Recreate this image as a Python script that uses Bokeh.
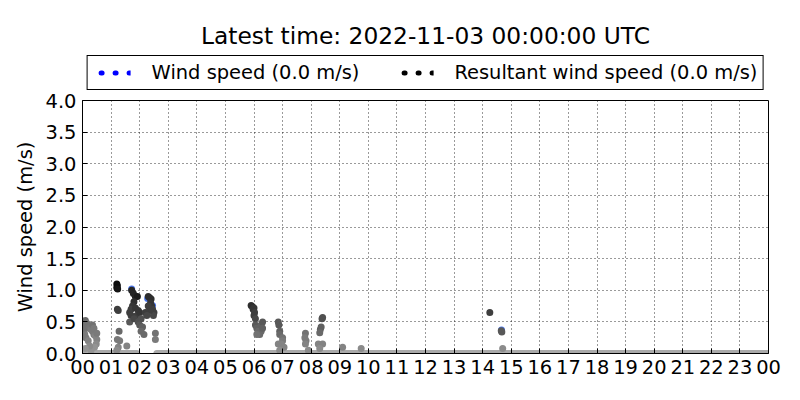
import numpy as np
from bokeh.plotting import figure
from bokeh.layouts import column
from bokeh.models import (ColumnDataSource, Range1d, FixedTicker, Legend, LegendItem,
                          LinearColorMapper, Label)
from bokeh.embed import file_html
from bokeh.resources import INLINE

# ---------------- data (hours of day, m/s) ----------------
res_hour = [0.02, 0.05, 0.10, 0.15, 0.20, 0.25, 0.30, 0.35, 0.40, 0.45, 0.50, 0.48, 0.42, 0.30,
            0.05, 0.08, 0.12, 0.20, 0.25, 0.10, 0.00, 0.35, 0.40, 0.50,
            1.20, 1.22, 1.20, 1.23, 1.22, 1.25, 1.28, 1.22, 1.30, 1.25, 1.55, 1.20,
            1.72, 1.78, 1.85, 1.92, 1.80, 1.75, 1.70, 1.65, 1.70, 1.65, 1.85, 1.95, 1.90, 1.80,
            2.00, 2.05, 1.95, 2.00, 2.10, 2.05, 2.15,
            2.30, 2.35, 2.40, 2.38, 2.42, 2.45, 2.50, 2.48, 2.30, 2.35, 2.20, 2.25, 2.55, 2.55,
            5.90, 5.95, 6.00, 5.97, 6.02, 6.00, 6.05, 6.05, 6.10, 6.15, 6.20, 6.25, 6.30, 6.25,
            6.10, 6.30,
            6.85, 6.87, 6.90, 6.90, 7.00, 7.00, 6.95, 6.85, 7.05, 6.90,
            7.80, 7.78, 7.82, 7.80, 7.90,
            8.40, 8.38, 8.35, 8.32, 8.30, 8.25, 8.40, 8.30,
            9.10, 9.75, 14.25, 14.65, 14.67, 14.70]
res_speed = [0.45, 0.50, 0.52, 0.48, 0.42, 0.40, 0.38, 0.35, 0.30, 0.28, 0.22, 0.15, 0.10, 0.05,
             0.35, 0.30, 0.25, 0.20, 0.12, 0.08, 0.40, 0.45, 0.40, 0.32,
             1.10, 1.07, 1.04, 1.02, 0.70, 0.68, 0.35, 0.22, 0.20, 0.10, 0.12, 0.05,
             1.00, 0.95, 0.90, 0.90, 0.82, 0.75, 0.70, 0.65, 0.60, 0.50, 0.72, 0.68, 0.60, 0.55,
             0.65, 0.55, 0.50, 0.45, 0.42, 0.35, 0.30,
             0.90, 0.88, 0.86, 0.80, 0.75, 0.70, 0.65, 0.60, 0.75, 0.68, 0.65, 0.60, 0.32, 0.22,
             0.76, 0.74, 0.72, 0.70, 0.65, 0.60, 0.55, 0.45, 0.40, 0.35, 0.30, 0.45, 0.50, 0.35,
             0.30, 0.40,
             0.50, 0.45, 0.35, 0.30, 0.25, 0.20, 0.15, 0.15, 0.10, 0.05,
             0.32, 0.25, 0.20, 0.15, 0.05,
             0.57, 0.55, 0.42, 0.38, 0.33, 0.15, 0.15, 0.08,
             0.10, 0.08, 0.65, 0.36, 0.34, 0.08]
# shading level of each resultant point (0 = light grey, 1 = black)
res_shade = [0.40, 0.40, 0.45, 0.40, 0.40, 0.38, 0.35, 0.35, 0.35, 0.30, 0.30, 0.25, 0.20, 0.20,
             0.40, 0.35, 0.35, 0.30, 0.25, 0.20, 0.40, 0.40, 0.35, 0.35,
             1.00, 1.00, 1.00, 0.95, 0.70, 0.70, 0.45, 0.35, 0.35, 0.30, 0.30, 0.25,
             0.85, 0.85, 0.85, 0.90, 0.80, 0.75, 0.70, 0.70, 0.70, 0.55, 0.75, 0.75, 0.70, 0.65,
             0.75, 0.60, 0.60, 0.55, 0.50, 0.45, 0.45,
             0.80, 0.80, 0.80, 0.75, 0.75, 0.70, 0.70, 0.65, 0.70, 0.70, 0.70, 0.65, 0.40, 0.35,
             0.80, 0.80, 0.75, 0.75, 0.70, 0.70, 0.65, 0.55, 0.50, 0.45, 0.45, 0.50, 0.55, 0.45,
             0.40, 0.50,
             0.55, 0.55, 0.50, 0.45, 0.40, 0.35, 0.30, 0.30, 0.30, 0.25,
             0.40, 0.35, 0.35, 0.30, 0.25,
             0.60, 0.60, 0.50, 0.50, 0.45, 0.30, 0.30, 0.25,
             0.30, 0.25, 0.70, 0.55, 0.55, 0.25]

wind_hour = [1.72, 2.45, 2.28, 14.66]
wind_speed = [1.02, 0.76, 0.87, 0.37]

# periods of calm (0.0 m/s readings)
calm_start = [0.0, 2.6]
calm_end = [1.9, 24.0]

hour_ticks = list(range(0, 25))
hour_labels = ["00", "01", "02", "03", "04", "05", "06", "07", "08", "09", "10", "11",
               "12", "13", "14", "15", "16", "17", "18", "19", "20", "21", "22", "23", "00"]
speed_ticks = [0.0, 0.5, 1.0, 1.5, 2.0, 2.5, 3.0, 3.5, 4.0]

title_text = "Latest time: 2022-11-03 00:00:00 UTC"
wind_label = "Wind speed (0.0 m/s)"
res_label = "Resultant wind speed (0.0 m/s)"

FONT = "DejaVu Sans"
TICK_FS = "19.44px"

# ---------------- header (title + legend) ----------------
TOP_H = 91
head = figure(width=792, height=TOP_H, output_backend="svg", toolbar_location=None,
              x_range=Range1d(0, 736), y_range=Range1d(0, TOP_H), title=None,
              x_axis_type=None, y_axis_type=None,
              min_border_left=56, min_border_right=0, min_border_top=0, min_border_bottom=0)
head.outline_line_color = None
head.background_fill_color = "white"
head.border_fill_color = "white"
head.add_layout(Label(x=368, y=TOP_H - 35, text=title_text, text_align="center",
                      text_baseline="middle", text_font=FONT, text_font_size="23.33px",
                      text_color="black"))

lw = head.line([-20, -10], [-20, -20], line_color="#0000ff", line_width=5,
               line_dash="1 13", line_dash_offset=6, line_cap="round")
lr = head.line([-20, -10], [-20, -20], line_color="black", line_width=5,
               line_dash="1 13", line_dash_offset=6, line_cap="round")
legend = Legend(items=[LegendItem(label=wind_label, renderers=[lw]),
                       LegendItem(label=res_label, renderers=[lr])],
                orientation="horizontal", location="bottom_center")
legend.label_text_font = FONT
legend.label_text_font_size = TICK_FS
legend.label_text_color = "black"
legend.border_line_color = "black"
legend.border_line_width = 1
legend.border_line_alpha = 1
legend.background_fill_color = "white"
legend.background_fill_alpha = 1
legend.padding = 5
legend.spacing = 36
legend.glyph_width = 38
legend.glyph_height = 17
legend.label_standoff = 21
legend.label_height = 17
legend.margin = 1
head.add_layout(legend, "center")

# ---------------- main chart ----------------
p = figure(width=792, height=301, output_backend="svg", toolbar_location=None,
           x_range=Range1d(0, 24), y_range=Range1d(0, 4), title=None,
           min_border_left=82, min_border_right=24, min_border_bottom=39, min_border_top=9)
p.background_fill_color = "white"
p.border_fill_color = "white"
p.outline_line_color = "black"
p.outline_line_width = 1

for ax in (p.xaxis[0], p.yaxis[0]):
    ax.major_label_text_font = FONT
    ax.major_label_text_font_size = TICK_FS
    ax.major_label_text_color = "black"
    ax.axis_label_text_font = FONT
    ax.axis_label_text_font_size = TICK_FS
    ax.axis_label_text_font_style = "normal"
    ax.axis_label_text_color = "black"
    ax.major_tick_in = 5
    ax.major_tick_out = 0
    ax.minor_tick_in = 0
    ax.minor_tick_out = 0
    ax.axis_line_color = "black"
    ax.major_tick_line_color = "black"
    ax.major_label_standoff = 6

p.xaxis.ticker = FixedTicker(ticks=hour_ticks)
p.xaxis.major_label_overrides = {t: l for t, l in zip(hour_ticks, hour_labels)}
p.yaxis.ticker = FixedTicker(ticks=speed_ticks)
p.yaxis.major_label_overrides = {t: "%.1f" % t for t in speed_ticks}
p.yaxis.axis_label = "Wind speed (m/s)"
p.yaxis.axis_label_standoff = 6

for g in (p.xgrid[0], p.ygrid[0]):
    g.grid_line_color = "black"
    g.grid_line_dash = "1 3"
    g.grid_line_width = 0.8

# calm periods (zero readings)
p.segment(x0=calm_start, y0=[0] * len(calm_start), x1=calm_end, y1=[0] * len(calm_end),
          line_color="#a9a9a9", line_width=7, line_cap="round")

# wind speed (blue, beneath)
p.scatter(wind_hour, wind_speed, size=7, fill_color="#2a5ee8", line_color=None, fill_alpha=0.85)

# resultant wind speed, shaded
palette = ["#%02x%02x%02x" % (g, g, g) for g in np.linspace(182, 12, 256).astype(int)]
mapper = LinearColorMapper(palette=palette, low=0, high=1)
src = ColumnDataSource(dict(x=res_hour, y=res_speed, shade=res_shade))
p.scatter("x", "y", source=src, size=7, line_color=None,
          fill_color={"field": "shade", "transform": mapper})

page = column(head, p, spacing=0)
open("out.html", "w").write(file_html(page, INLINE))
